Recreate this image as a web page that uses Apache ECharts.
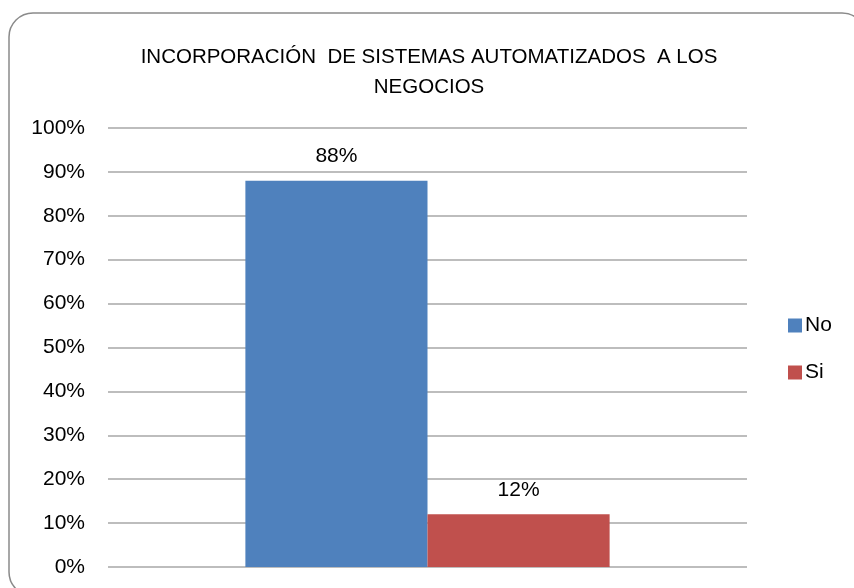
<!DOCTYPE html>
<html lang="es">
<head>
    <meta charset="UTF-8">
    <title>bar</title>
    <script src="https://cdn.jsdelivr.net/npm/echarts@6/dist/echarts.min.js"></script>
    <style>
        html, body { margin: 0; padding: 0; background: #fff; }
        #bar { width: 854px; height: 588px; }
    </style>
</head>
<body>
<div id="bar"></div>
<script>
    // datos
    var categories = [''];
    var seriesNames = ['No', 'Si'];
    var valuesNo = [88];
    var valuesSi = [12];
    var colors = ['#4F81BD', '#C0504D'];

    var font = 'Liberation Sans';

    var myChart = echarts.init(document.getElementById('bar'));

    var labelStyle = {
        show: true,
        position: 'top',
        distance: 14,
        formatter: '{c}%',
        fontFamily: font,
        fontSize: 21,
        color: '#000'
    };

    var option = {
        animation: false,
        title: {
            text: 'INCORPORACIÓN  DE SISTEMAS AUTOMATIZADOS  A LOS\nNEGOCIOS',
            left: 429,
            top: 42,
            textAlign: 'center',
            padding: 0,
            textStyle: {
                fontFamily: font,
                fontSize: 20.5,
                fontWeight: 'normal',
                color: '#000',
                lineHeight: 30
            }
        },
        color: colors,
        legend: {
            data: seriesNames,
            orient: 'vertical',
            left: 788,
            top: 315,
            padding: 0,
            itemWidth: 14,
            itemHeight: 14,
            itemGap: 26,
            icon: 'rect',
            textStyle: { fontFamily: font, fontSize: 21, color: '#000', padding: [0, 0, 0, -2] }
        },
        grid: { left: 108, right: 107, top: 128, bottom: 21 },
        xAxis: {
            type: 'category',
            data: categories,
            axisLine: { show: false },
            axisTick: { show: false },
            axisLabel: { show: false }
        },
        yAxis: {
            type: 'value',
            min: 0,
            max: 100,
            interval: 10,
            axisLabel: {
                formatter: '{value}%',
                fontFamily: font,
                fontSize: 21,
                color: '#000',
                margin: 23,
                padding: [4, 0, 0, 0]
            },
            splitLine: { lineStyle: { color: '#bdbdbd', width: 2 } }
        },
        series: [{
            name: seriesNames[0],
            type: 'bar',
            data: valuesNo,
            barGap: '0%',
            barCategoryGap: '43%',
            label: labelStyle
        }, {
            name: seriesNames[1],
            type: 'bar',
            data: valuesSi,
            label: labelStyle
        }],
        graphic: [{
            type: 'rect',
            shape: { x: 9, y: 13, width: 857, height: 583, r: 24 },
            style: { fill: 'none', stroke: '#8a8a8a', lineWidth: 1.5 },
            silent: true,
            z: -1
        }]
    };

    myChart.setOption(option);
</script>
</body>
</html>
